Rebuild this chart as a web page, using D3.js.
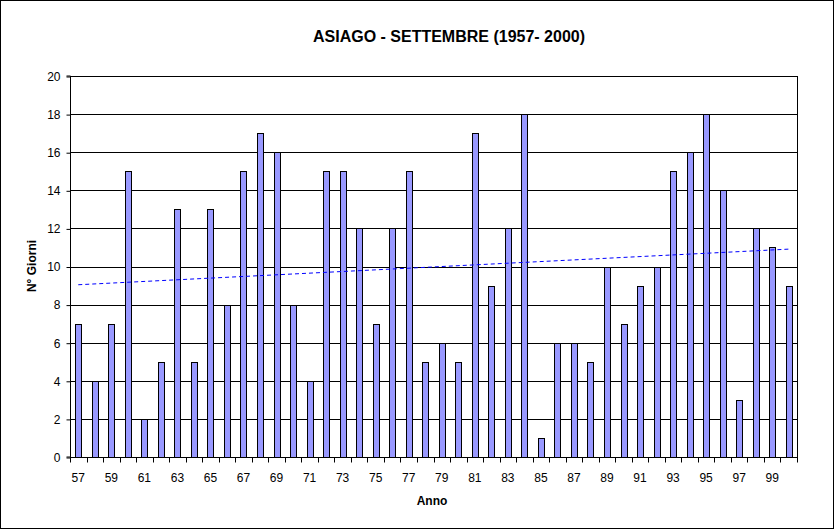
<!DOCTYPE html>
<html><head><meta charset="utf-8">
<script src="https://cdn.jsdelivr.net/npm/d3@7"></script>
<style>
body{margin:0;background:#fff;}
svg{display:block;font-family:Arial,"Liberation Sans",sans-serif;}
</style></head>
<body><svg id="c" width="834" height="529"></svg>
<script>
const years = ["57","58","59","60","61","62","63","64","65","66","67","68","69","70","71","72","73","74","75","76","77","78","79","80","81","82","83","84","85","86","87","88","89","90","91","92","93","94","95","96","97","98","99","00"];
const values = [7,4,7,15,2,5,13,5,13,8,15,17,16,8,4,15,15,12,7,12,15,5,6,5,17,9,12,18,1,6,6,5,10,7,9,10,15,16,18,14,3,12,11,9];
const yTicks = [0,2,4,6,8,10,12,14,16,18,20];
const title = "ASIAGO - SETTEMBRE (1957- 2000)";
const xTitle = "Anno";
const yTitle = "N° Giorni";

const svg = d3.select("#c");
const W = 834, H = 529;
const m = {left:70, top:76, right:797, bottom:457};

svg.append("rect").attr("x",0.5).attr("y",0.5).attr("width",W-1).attr("height",H-1)
  .attr("fill","#fff").attr("stroke","#000").attr("stroke-width",1);

const xb = d3.scaleBand().domain(years).range([m.left, m.right]);
const y = d3.scaleLinear().domain([0,20]).range([m.bottom, m.top]);

// gridlines
svg.append("g").selectAll("line").data(yTicks.filter(d=>d>0)).join("line")
  .attr("x1",m.left).attr("x2",m.right)
  .attr("y1",d=>Math.round(y(d))+0.5).attr("y2",d=>Math.round(y(d))+0.5)
  .attr("stroke","#000").attr("stroke-width",1);
// right border of plot
svg.append("line").attr("x1",m.right+0.5).attr("x2",m.right+0.5).attr("y1",m.top).attr("y2",m.bottom)
  .attr("stroke","#000");

// bars
const bw = 6;
svg.append("g").selectAll("rect").data(values).join("rect")
  .attr("x",(d,i)=>Math.round(xb(years[i])+xb.bandwidth()/2-bw/2)+0.5)
  .attr("y",d=>Math.round(y(d))+0.5)
  .attr("width",bw)
  .attr("height",d=>Math.round(y(0))-Math.round(y(d)))
  .attr("fill","#9999FF").attr("stroke","#000").attr("stroke-width",1);

// trend line (linear regression, as the chart's linear trendline)
const n = values.length;
const xs = d3.range(n);
const mx = d3.mean(xs), my = d3.mean(values);
const slope = d3.sum(xs,(i)=>(i-mx)*(values[i]-my))/d3.sum(xs,i=>(i-mx)*(i-mx));
const icpt = my - slope*mx;
svg.append("line")
  .attr("x1",xb(years[0])+xb.bandwidth()/2).attr("y1",y(icpt))
  .attr("x2",xb(years[n-1])+xb.bandwidth()/2).attr("y2",y(icpt+slope*(n-1)))
  .attr("stroke","#0000FF").attr("stroke-width",1).attr("stroke-dasharray","4,3");

// y axis
const ya = d3.axisLeft(y).tickValues(yTicks).tickSize(4).tickPadding(6).tickFormat(d3.format("d"));
const gy = svg.append("g").attr("transform",`translate(${m.left+0.5},0.5)`).call(ya);
gy.select(".domain").attr("d",`M-4,${m.bottom-0.5}H0V${m.top-0.5}H-4`).attr("stroke","#000");
gy.selectAll(".tick line").attr("stroke","#000");
gy.selectAll("text").attr("font-size","12px").attr("fill","#000").attr("font-family","Arial,'Liberation Sans',sans-serif");

// x axis
const gx = svg.append("g").attr("transform",`translate(0,${m.bottom+0.5})`);
gx.append("line").attr("x1",m.left).attr("x2",m.right+1).attr("y1",0).attr("y2",0).attr("stroke","#000");
const bounds = years.map(d=>xb(d)).concat([m.right]);
gx.selectAll("line.t").data(bounds).join("line").attr("class","t")
  .attr("x1",d=>Math.round(d)+0.5).attr("x2",d=>Math.round(d)+0.5).attr("y1",0).attr("y2",5).attr("stroke","#000");
gx.selectAll("text").data(years.filter((d,i)=>i%2===0)).join("text")
  .attr("x",d=>xb(d)+xb.bandwidth()/2).attr("y",24)
  .attr("text-anchor","middle").attr("font-size","12px").attr("fill","#000").text(d=>d);

// titles
svg.append("text").attr("x",449).attr("y",42).attr("text-anchor","middle")
  .attr("font-size","16px").attr("font-weight","bold").text(title);
svg.append("text").attr("x",432).attr("y",505).attr("text-anchor","middle")
  .attr("font-size","12px").attr("font-weight","bold").text(xTitle);
svg.append("text").attr("transform","translate(36,266) rotate(-90)").attr("text-anchor","middle")
  .attr("font-size","12px").attr("font-weight","bold").text(yTitle);
</script>
</body></html>
